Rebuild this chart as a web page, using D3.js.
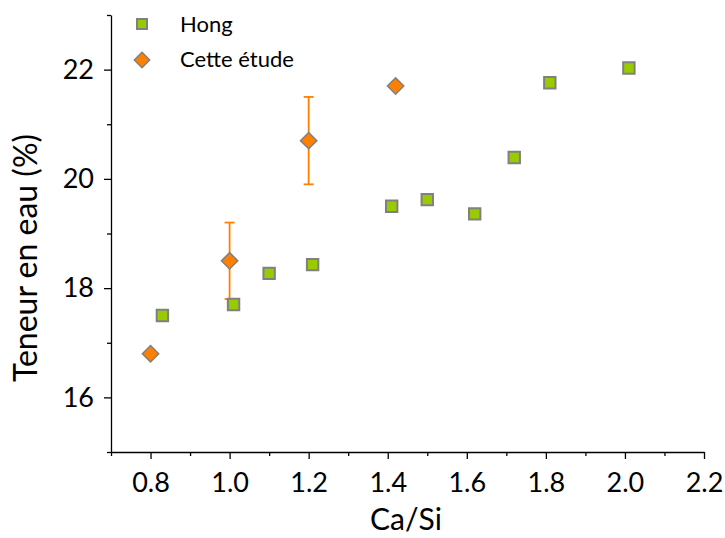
<!DOCTYPE html>
<html><head><meta charset="utf-8">
<script src="https://cdn.jsdelivr.net/npm/d3@7"></script>
<style>body{margin:0;background:#fff}svg{display:block}text{font-family:Lato,"Open Sans",sans-serif}</style>
</head><body><svg id="c" width="725" height="538"></svg>
<script>
const hongX = [0.83, 1.01, 1.10, 1.21, 1.41, 1.50, 1.62, 1.72, 1.81, 2.01];
const hongY = [17.5, 17.7, 18.27, 18.43, 19.5, 19.62, 19.36, 20.39, 21.76, 22.03];
const etudeX = [0.80, 1.00, 1.20, 1.42];
const etudeY = [16.8, 18.5, 20.7, 21.7];
const etudeErr = [0, 0.7, 0.8, 0];
const xTicks = [0.8, 1.0, 1.2, 1.4, 1.6, 1.8, 2.0, 2.2];
const xMinor = [0.7, 0.9, 1.1, 1.3, 1.5, 1.7, 1.9, 2.1];
const yTicks = [16, 18, 20, 22];
const yMinor = [15, 17, 19, 21, 23];
const legendLabels = ["Hong", "Cette étude"];

const svg = d3.select("#c");
const x = d3.scaleLinear().domain([0.7, 2.2]).range([111, 704]);
const y = d3.scaleLinear().domain([15, 23]).range([452, 15]);

// minor ticks
svg.append("g").attr("transform","translate(0,452)")
  .call(d3.axisBottom(x).tickValues(xMinor).tickSize(4).tickFormat(""))
  .call(g=>g.select(".domain").remove());
svg.append("g").attr("transform","translate(111,0)")
  .call(d3.axisLeft(y).tickValues(yMinor).tickSize(4).tickFormat(""))
  .call(g=>g.select(".domain").remove());

const xa = svg.append("g").attr("transform","translate(0,452)")
  .call(d3.axisBottom(x).tickValues(xTicks).tickSize(7).tickSizeOuter(0).tickPadding(14).tickFormat(d3.format(".1f")));
const ya = svg.append("g").attr("transform","translate(111,0)")
  .call(d3.axisLeft(y).tickValues(yTicks).tickSize(7).tickSizeOuter(0).tickPadding(10).tickFormat(d3.format("d")));
[xa, ya].forEach(a=>{
  a.selectAll("text").attr("font-size",27).attr("fill","#000").style("font-family","Lato");
  a.selectAll("line,path").attr("stroke","#000").attr("stroke-width",1.3);
});
svg.selectAll("g line").attr("stroke","#000").attr("stroke-width",1.3);

svg.append("text").attr("x",406).attr("y",530).attr("text-anchor","middle")
  .attr("font-size",30).text("Ca/Si");
svg.append("text").attr("transform","translate(37,258) rotate(-90)").attr("text-anchor","middle")
  .attr("font-size",32).text("Teneur en eau (%)");

// error bars
const eb = svg.append("g").attr("stroke","#ff8000").attr("stroke-width",1.8);
etudeX.forEach((v,i)=>{
  if(!etudeErr[i]) return;
  const cx = x(v), y1 = y(etudeY[i]-etudeErr[i]), y2 = y(etudeY[i]+etudeErr[i]);
  eb.append("line").attr("x1",cx).attr("x2",cx).attr("y1",y1).attr("y2",y2);
  eb.append("line").attr("x1",cx-5).attr("x2",cx+5).attr("y1",y1).attr("y2",y1);
  eb.append("line").attr("x1",cx-5).attr("x2",cx+5).attr("y1",y2).attr("y2",y2);
});

const sq = d3.symbol().type(d3.symbolSquare).size(130);
const dm = d3.symbol().type(d3.symbolDiamond2).size(170);

svg.append("g").selectAll("path").data(hongX).join("path")
  .attr("d", sq).attr("transform",(d,i)=>`translate(${x(d)},${y(hongY[i])})`)
  .attr("fill","#99cc00").attr("stroke","#808080").attr("stroke-width",2);
svg.append("g").selectAll("path").data(etudeX).join("path")
  .attr("d", dm).attr("transform",(d,i)=>`translate(${x(d)},${y(etudeY[i])})`)
  .attr("fill","#ff8000").attr("stroke","#808080").attr("stroke-width",1.5);

// legend
const lg = svg.append("g");
lg.append("path").attr("d",d3.symbol().type(d3.symbolSquare).size(100)()).attr("transform","translate(142,24)")
  .attr("fill","#99cc00").attr("stroke","#808080").attr("stroke-width",2);
lg.append("path").attr("d",d3.symbol().type(d3.symbolDiamond2).size(150)()).attr("transform","translate(142,60)")
  .attr("fill","#ff8000").attr("stroke","#808080").attr("stroke-width",1.5);
legendLabels.forEach((t,i)=>{
  lg.append("text").attr("x",180).attr("y",32+35*i).attr("font-size",22).text(t);
});
</script></body></html>
